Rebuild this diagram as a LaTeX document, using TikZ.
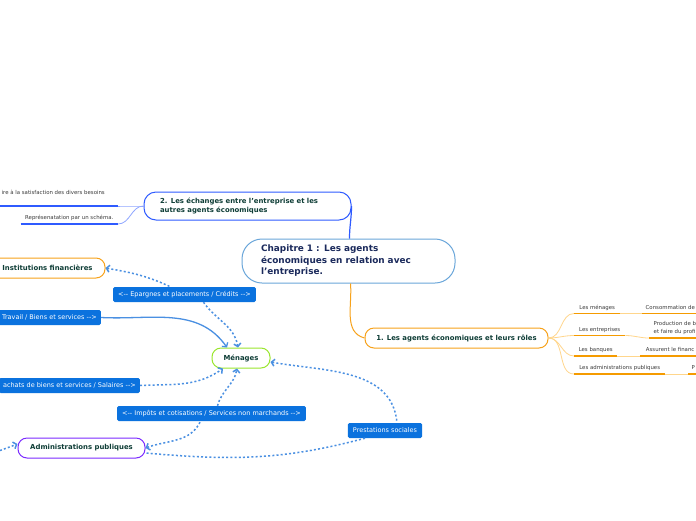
\documentclass[tikz,border=0pt]{standalone}
\usepackage{fontspec}
\setmainfont{DejaVu Sans}
\usetikzlibrary{arrows.meta, positioning, calc}

\definecolor{cenline}{HTML}{6AA6DA}
\definecolor{centext}{HTML}{1B2A5C}
\definecolor{topictext}{HTML}{0E3D36}
\definecolor{leaftext}{HTML}{3C3C3C}
\definecolor{bluebr}{HTML}{2F5BFF}
\definecolor{bluelt}{HTML}{8FA6FF}
\definecolor{orangebr}{HTML}{F7A21B}
\definecolor{orangeul}{HTML}{F59B00}
\definecolor{orangelt}{HTML}{FFD68C}
\definecolor{limebr}{HTML}{9AE62E}
\definecolor{purplebr}{HTML}{7B2BFF}
\definecolor{labfill}{HTML}{0B72DE}
\definecolor{relcol}{HTML}{4A90E2}

\newcommand\cenfont{\fontsize{8.9}{11.5}\selectfont\bfseries}
\newcommand\topicfont{\fontsize{6.9}{9}\selectfont\bfseries}
\newcommand\labfont{\fontsize{6.5}{8}\selectfont}
\newcommand\leaffont{\fontsize{5.4}{8}\selectfont}

\tikzset{
  central/.style={draw=cenline, line width=1pt, fill=white, rounded corners=20pt,
    font=\cenfont, text=centext, align=left, inner xsep=19pt, inner ysep=0pt},
  topic/.style={draw, line width=1pt, fill=white, rounded corners=9pt,
    font=\topicfont, text=topictext, minimum height=20pt, inner sep=0pt},
  lab/.style={fill=labfill, text=white, font=\labfont, rounded corners=1.5pt,
    minimum height=15pt, inner xsep=5pt, inner ysep=0pt},
  leaf/.style={font=\leaffont, text=leaftext, inner xsep=4.5pt, inner ysep=3pt,
    text height=4pt, text depth=1.2pt},
  leaftwo/.style={font=\leaffont, text=leaftext, inner xsep=4.5pt, inner ysep=3.5pt,
    align=left},
  ulblue/.style={draw=bluebr, line width=1.3pt},
  ulorange/.style={draw=orangeul, line width=1.3pt},
  brblue/.style={draw=bluelt, line width=0.8pt},
  brorange/.style={draw=orangelt, line width=0.8pt},
  rel/.style={draw=relcol, line width=1.5pt, dash pattern=on 2pt off 2.2pt},
  relsolid/.style={draw=relcol, line width=1.3pt},
  >={Straight Barb[length=3pt,width=7pt]}
}

\begin{document}
\begin{tikzpicture}[x=1pt, y=-1pt]
    \path[use as bounding box, fill=white] (0,0) rectangle (696,520);

    % main topics
    \node[central, minimum width=213pt, minimum height=44pt, text width=175pt] (cen) at (348.5,261)
        {Chapitre 1 : Les agents\\économiques en relation avec\\l'entreprise.};
    \node[topic, draw=bluebr, rounded corners=12pt, minimum height=28pt, text width=175pt,
        inner xsep=16pt, align=left] (n2) at (247.5,206)
        {2. Les échanges entre l'entreprise et les\\autres agents économiques};
    \node[topic, draw=orangebr, minimum width=183pt] (n1) at (456.5,338)
        {1. Les agents économiques et leurs rôles};

    \draw[draw=bluebr, line width=1.2pt] ([xshift=1pt]cen.north) to[out=90,in=-90] (n2.east);
    \draw[draw=orangebr, line width=1pt] ([xshift=2pt]cen.south) to[out=-85,in=165] (n1.west);

    % leaves of 2.
    \node[leaf, anchor=south east, inner xsep=13pt, inner ysep=9.8pt] (lb1) at (118,206)
        {ire à la satisfaction des divers besoins};
    \node[leaf, anchor=south east] (lb2) at (118,224) {Représenatation par un schéma.};
    \draw[ulblue] (lb1.south west) -- (lb1.south east);
    \draw[ulblue] (lb2.south west) -- (lb2.south east);
    \draw[brblue] (n2.west) to[out=180,in=0] (lb1.south east);
    \draw[brblue] (n2.west) to[out=180,in=0] (lb2.south east);

    % leaves of 1.
    \node[leaf, anchor=south west, minimum width=46pt] (men1) at (574,313.5) {Les ménages};
    \node[leaf, anchor=south west, minimum width=56pt, inner xsep=3.5pt] (men2) at (642,313.5) {Consommation de};
    \node[leaf, anchor=south west, minimum width=51pt] (ent1) at (574,335.5) {Les entreprises};
    \node[leaftwo, anchor=south west, minimum width=50pt] (ent2) at (649,338) {Production de b\\et faire du profi};
    \node[leaf, anchor=south west, minimum width=43pt] (ban1) at (574,356) {Les banques};
    \node[leaf, anchor=south west, minimum width=60pt] (ban2) at (640,356) {Assurent le financ};
    \node[leaf, anchor=south west, minimum width=91pt] (adm1) at (574,374) {Les administrations publiques};
    \node[leaf, anchor=south west, minimum width=8pt, inner xsep=3.5pt] (adm2) at (688,374) {P};

    \draw[brorange] (n1.east) to[out=0,in=180] (men1.south west);
    \draw[brorange] (n1.east) to[out=0,in=180] (ent1.south west);
    \draw[brorange] (n1.east) to[out=0,in=180] (ban1.south west);
    \draw[brorange] (n1.east) to[out=0,in=180] (adm1.south west);
    \draw[brorange] (men1.south east) -- (men2.south west);
    \draw[brorange] (ent1.south east) to[out=0,in=180] (ent2.south west);
    \draw[brorange] (ban1.south east) -- (ban2.south west);
    \draw[brorange] (adm1.south east) -- (adm2.south west);
    \draw[ulorange] (men1.south west) -- (men1.south east);
    \draw[ulorange] (men2.south west) -- (men2.south east);
    \draw[ulorange] (ent1.south west) -- (ent1.south east);
    \draw[ulorange] (ent2.south west) -- (ent2.south east);
    \draw[ulorange] (ban1.south west) -- (ban1.south east);
    \draw[ulorange] (ban2.south west) -- (ban2.south east);
    \draw[ulorange] (adm1.south west) -- (adm1.south east);
    \draw[ulorange] (adm2.south west) -- (adm2.south east);

    % agents
    \node[topic, draw=orangebr, minimum width=115pt] (inst) at (47.5,268) {Institutions financières};
    \node[topic, draw=limebr, minimum width=58pt] (men) at (241,358) {Ménages};
    \node[topic, draw=purplebr, minimum width=127pt] (ap) at (81.5,448) {Administrations publiques};
    \coordinate (apsrc) at (-4,452);

    % flows
    \node[lab] (ep) at (184.5,294.5) {<-{}- Epargnes et placements / Crédits -{}->};
    \node[lab, anchor=east, inner xsep=4pt] (tr) at (101,317.5) {Travail / Biens et services -{}->};
    \node[lab, anchor=east, inner xsep=4pt] (ach) at (140,385.5) {achats de biens et services / Salaires -{}->};
    \node[lab] (imp) at (211.5,413.5) {<-{}- Impôts et cotisations / Services non marchands -{}->};
    \node[lab] (pr) at (385,430.5) {Prestations sociales};

    \draw[rel, <-] (inst.east) to[out=-10,in=155] ([xshift=-14pt]ep.north);
    \draw[rel, ->] ([xshift=19pt]ep.south) to[out=-55,in=100] ([xshift=-3pt]men.north);
    \draw[relsolid, ->] (tr.east) to[out=-3,in=125] ([xshift=-14pt]men.north);
    \draw[rel, ->] (ach.east) to[out=3,in=-145] ([xshift=-18pt]men.south);
    \draw[rel, <-] (ap.east) to[out=20,in=-115] ([xshift=-11pt]imp.south);
    \draw[rel, ->] ([xshift=6pt]imp.north) to[out=75,in=-100] ([xshift=-4pt]men.south);
    \draw[rel, <-] ([yshift=-4pt]men.east) to[out=-10,in=95] ([xshift=12pt]pr.north);
    \draw[rel] ([xshift=-20pt]pr.south) to[out=-165,in=-5] ([yshift=-5pt]ap.east);
    \draw[rel, ->] (apsrc) -- ([yshift=4pt]ap.west);

\end{tikzpicture}
\end{document}
